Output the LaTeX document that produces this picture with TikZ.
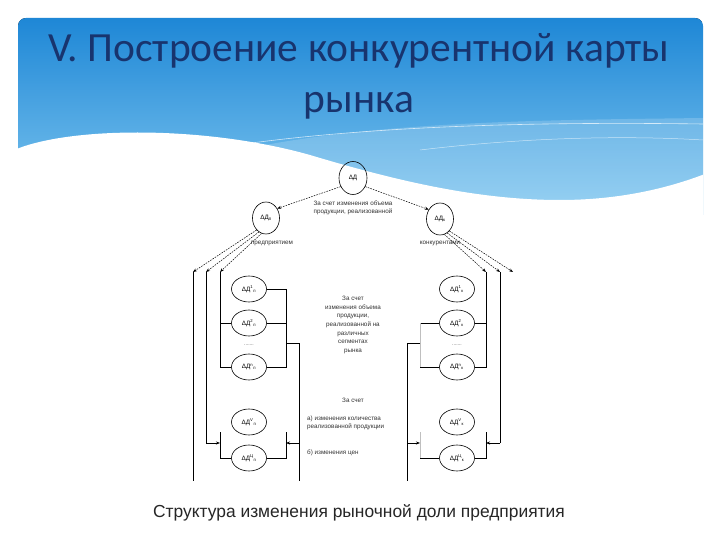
\documentclass[tikz,border=0pt]{standalone}
\usepackage{fontspec}
\setmainfont{Liberation Sans}
\newfontfamily\titlefont{Carlito}
\usetikzlibrary{shapes.geometric,arrows.meta}
\definecolor{hdrTop}{RGB}{30,135,214}
\definecolor{hdrBot}{RGB}{130,200,240}
\definecolor{titleC}{RGB}{24,52,110}
\newcommand{\dlab}[2]{ΔД\textsuperscript{\fontsize{4.2}{4}\selectfont #1}\textsubscript{\fontsize{4.2}{4}\selectfont #2}}
\tikzset{
  ov/.style={ellipse, draw, line width=0.6pt, minimum width=35pt, minimum height=26pt, inner sep=0pt, font=\fontsize{6.3}{7}\selectfont},
  sm/.style={ellipse, draw, line width=0.6pt, minimum width=27pt, minimum height=32pt, inner sep=0pt, font=\fontsize{6.3}{7}\selectfont},
  ln/.style={line width=0.6pt},
  dsh/.style={line width=0.5pt, dash pattern=on 1.6pt off 1.1pt, -{Stealth[length=4pt,width=3pt]}},
  arr/.style={line width=0.6pt, -{Stealth[length=4pt,width=3pt]}},
  lbl/.style={font=\fontsize{6.3}{8.6}\selectfont, text=black!80, align=center, inner sep=0pt},
  lbll/.style={font=\fontsize{6.3}{8.6}\selectfont, text=black!80, align=left, anchor=west, inner sep=0pt},
  dots/.style={font=\fontsize{5}{5}\selectfont, text=black!70, inner sep=0pt}
}
\begin{document}
\begin{tikzpicture}[x=1pt,y=-1pt]
\useasboundingbox (0,0) rectangle (720,540);
\fill[white] (0,0) rectangle (720,540);
% header
\begin{scope}
\clip[rounded corners=8pt] (18,18) rectangle (703,300);
\fill[top color=hdrTop,bottom color=hdrBot] (18,18) rectangle (703,215);
\fill[white,opacity=0.18] (240,150) .. controls (380,120) and (560,120) .. (703,118) -- (703,215) -- (240,215) -- cycle;
\draw[white,opacity=0.7,line width=0.6pt] (230,146) .. controls (380,124) and (560,122) .. (703,124);
\draw[white,opacity=0.6,line width=0.5pt] (420,150) .. controls (520,138) and (620,135) .. (703,140);
\fill[white] (10,152) .. controls (60,127) and (200,124) .. (310,155) .. controls (400,182) and (480,200) .. (560,200) .. controls (620,200) and (670,188) .. (710,172) -- (710,300) -- (10,300) -- cycle;
\end{scope}
\node[font=\titlefont\fontsize{41.5}{51}\selectfont, text=titleC, align=center] (title) at (359,76) {V. Построение конкурентной карты\\рынка};
% top level
\node[sm, minimum width=28pt, minimum height=33pt] (G) at (353,178) {ΔД};
\node[sm] (Lp) at (266,218) {ΔД\textsubscript{п}};
\node[sm] (Rk) at (440,219) {ΔД\textsubscript{к}};
\draw[dsh] (G.215) -- (Lp.40);
\draw[dsh] (G.325) -- (Rk.140);
\node[lbl] (t0) at (353,208) {За счет изменения объема\\продукции, реализованной};
\node[lbl] (tp) at (272,243) {предприятием};
\node[lbl] (tk) at (440,243) {конкурентами};
% ellipses left
\node[ov] (L1) at (249,289) {\dlab{1}{п}};
\node[ov] (L2) at (249,323) {\dlab{2}{п}};
\node[dots] (Ld) at (249,345) {.......};
\node[ov] (L3) at (249,367) {\dlab{n}{п}};
\node[ov] (L4) at (249,422) {\dlab{V}{п}};
\node[ov] (L5) at (249,458) {\dlab{Ц}{п}};
% ellipses right
\node[ov] (R1) at (457,289) {\dlab{1}{к}};
\node[ov] (R2) at (457,323) {\dlab{2}{к}};
\node[dots] (Rd) at (457,345) {.......};
\node[ov] (R3) at (457,367) {\dlab{n}{к}};
\node[ov] (R4) at (457,422) {\dlab{V}{к}};
\node[ov] (R5) at (457,458) {\dlab{Ц}{к}};
% center texts
\node[lbl] (c1) at (353,325) {За счет\\изменения объема\\продукции,\\реализованной на\\различных\\сегментах\\рынка};
\node[lbl] (c2) at (353,400) {За счет};
\node[lbll] (c3) at (307,423) {а) изменения количества\\реализованной продукции};
\node[lbll] (c4) at (307,453) {б) изменения цен};
% coordinates left
\coordinate (a1) at (193,272); \coordinate (a1b) at (193,481);
\coordinate (a2) at (206,272); \coordinate (a2b) at (206,443);
\coordinate (a3) at (220,272); \coordinate (a3b) at (220,367);
\coordinate (b1) at (220,443); \coordinate (b1t) at (220,432); \coordinate (b1b) at (220,458);
\coordinate (c1t) at (286,289); \coordinate (c1m) at (286,343); \coordinate (c1b) at (286,367);
\coordinate (d1) at (299,343); \coordinate (d1m) at (299,443); \coordinate (d1b) at (299,481);
\coordinate (e1) at (286,443); \coordinate (e1t) at (286,432); \coordinate (e1b) at (286,458);
% coordinates right
\coordinate (a1r) at (513,272);
\coordinate (a2r) at (500,272); \coordinate (a2rb) at (500,443);
\coordinate (a3r) at (486,272); \coordinate (a3rb) at (486,367);
\coordinate (b1r) at (486,443); \coordinate (b1rt) at (486,432); \coordinate (b1rb) at (486,458);
\coordinate (c1rt) at (420,323); \coordinate (c1rm) at (420,343); \coordinate (c1rb) at (420,367);
\coordinate (d1r) at (407,343); \coordinate (d1rm) at (407,443); \coordinate (d1rb) at (407,481);
\coordinate (e1r) at (420,443); \coordinate (e1rt) at (420,432); \coordinate (e1rb) at (420,458);
% dashed fan left
\draw[dsh] (Lp.232) -- (a1);
\draw[dsh] (Lp.243) -- (a2);
\draw[dsh] (Lp.254) -- (a3);
% dashed fan right
\draw[dsh] (Rk.308) -- (a1r);
\draw[dsh] (Rk.297) -- (a2r);
\draw[dsh] (Rk.286) -- (a3r);
% left verticals
\draw[ln] (a1) -- (a1b);
\draw[ln] (a2) -- (a2b);
\draw[arr] (a2b) -- (b1);
\draw[ln] (a3) -- (a3b) -- (L3.west);
\draw[ln] (a3|-L2) -- (L2.west);
\draw[ln] (b1t) -- (b1b) -- (L5.west);
\draw[ln] (L1.east) -- (c1t) -- (c1b) -- (L3.east);
\draw[ln] (L2.east) -- (c1t|-L2);
\draw[ln] (c1m) -- (d1) -- (d1b);
\draw[arr] (d1m) -- (e1);
\draw[ln] (e1t) -- (e1b) -- (L5.east);
% right verticals
\draw[ln] (a2r) -- (a2rb);
\draw[arr] (a2rb) -- (b1r);
\draw[ln] (a3r) -- (a3rb) -- (R3.east);
\draw[ln] (a3r|-R2) -- (R2.east);
\draw[ln] (b1rt) -- (b1rb) -- (R5.east);
\draw[ln] (R2.west) -- (c1rt|-R2);
\draw[ln] (R3.west) -- (c1rb);
\draw[ln,black!25] (c1rt) -- (c1rb);
\draw[ln] (c1rm) -- (d1r) -- (d1rb);
\draw[arr] (d1rm) -- (e1r);
\draw[ln,black!25] (e1rt) -- (e1rb);
\draw[ln] (e1rb) -- (R5.west);
% caption
\node[font=\fontsize{17.4}{19}\selectfont, text=black!85] (cap) at (359,513) {Структура изменения рыночной доли предприятия};
\end{tikzpicture}
\end{document}
